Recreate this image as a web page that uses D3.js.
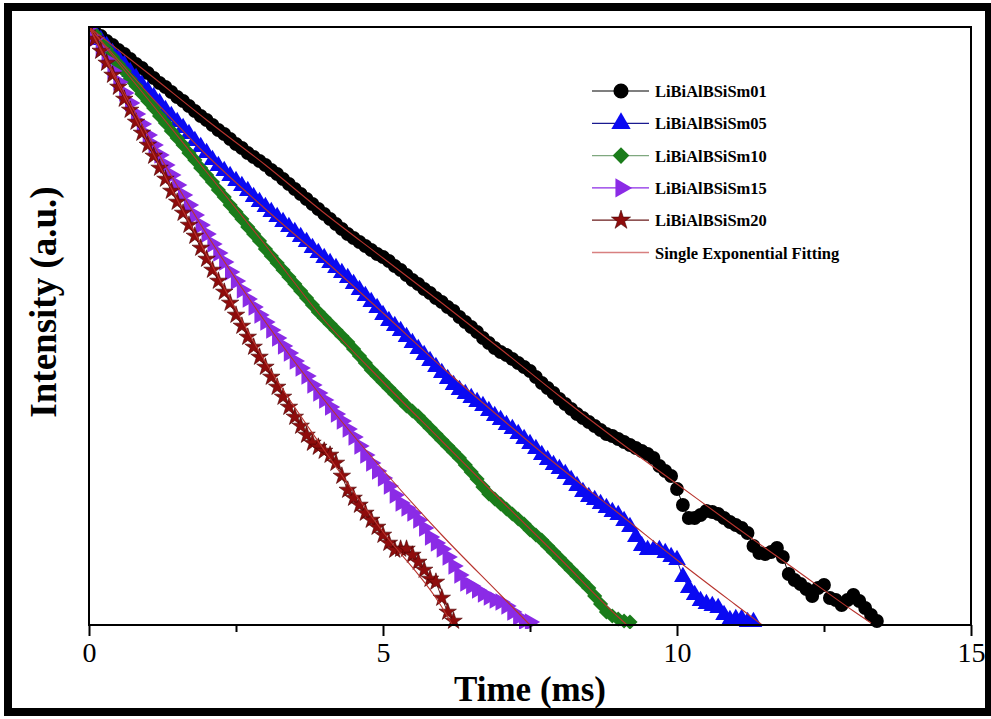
<!DOCTYPE html>
<html>
<head>
<meta charset="utf-8">
<script src="https://cdn.jsdelivr.net/npm/d3@7"></script>
<style>
  body { margin: 0; background: #fff; }
  svg { display: block; }
</style>
</head>
<body>
<script>
// time axis of the decay measurement (ms)
const time = [
  0,0.1,0.2,0.3,0.4,0.5,0.6,0.7,0.8,0.9,
  1,1.1,1.2,1.3,1.4,1.5,1.6,1.7,1.8,1.9,
  2,2.1,2.2,2.3,2.4,2.5,2.6,2.7,2.8,2.9,
  3,3.1,3.2,3.3,3.4,3.5,3.6,3.7,3.8,3.9,
  4,4.1,4.2,4.3,4.4,4.5,4.6,4.7,4.8,4.9,
  5,5.1,5.2,5.3,5.4,5.5,5.6,5.7,5.8,5.9,
  6,6.1,6.2,6.3,6.4,6.5,6.6,6.7,6.8,6.9,
  7,7.1,7.2,7.3,7.4,7.5,7.6,7.7,7.8,7.9,
  8,8.1,8.2,8.3,8.4,8.5,8.6,8.7,8.8,8.9,
  9,9.1,9.2,9.3,9.4,9.5,9.6,9.7,9.8,9.9,
  10,10.1,10.2,10.3,10.4,10.5,10.6,10.7,10.8,10.9,
  11,11.1,11.2,11.3,11.4,11.5,11.6,11.7,11.8,11.9,
  12,12.1,12.2,12.3,12.4,12.5,12.6,12.7,12.8,12.9,
  13,13.1,13.2,13.3,13.4
];

// ln(I/I0), one value per time step
const sm01 = [
  0,-0.05,-0.09,-0.14,-0.18,-0.23,-0.27,-0.32,-0.37,-0.41,
  -0.46,-0.51,-0.56,-0.60,-0.65,-0.70,-0.74,-0.79,-0.84,-0.89,
  -0.93,-0.98,-1.03,-1.07,-1.12,-1.17,-1.21,-1.26,-1.30,-1.34,
  -1.38,-1.43,-1.47,-1.52,-1.57,-1.62,-1.67,-1.72,-1.77,-1.82,
  -1.87,-1.92,-1.97,-2.02,-2.07,-2.11,-2.15,-2.19,-2.23,-2.27,
  -2.30,-2.34,-2.39,-2.43,-2.48,-2.53,-2.57,-2.62,-2.66,-2.71,
  -2.75,-2.80,-2.84,-2.90,-2.95,-3.00,-3.05,-3.11,-3.16,-3.21,
  -3.25,-3.28,-3.32,-3.36,-3.40,-3.44,-3.50,-3.56,-3.61,-3.66,
  -3.72,-3.77,-3.82,-3.87,-3.91,-3.95,-3.99,-4.03,-4.07,-4.09,
  -4.12,-4.15,-4.18,-4.21,-4.24,-4.27,-4.31,-4.39,-4.44,-4.49,
  -4.62,-4.78,-4.91,-4.91,-4.88,-4.84,-4.85,-4.87,-4.91,-4.95,
  -4.98,-5.01,-5.06,-5.19,-5.26,-5.27,-5.25,-5.21,-5.30,-5.47,
  -5.53,-5.57,-5.62,-5.69,-5.61,-5.58,-5.71,-5.73,-5.78,-5.73,
  -5.68,-5.74,-5.81,-5.88,-5.94
];
const sm05 = [
  0,-0.06,-0.13,-0.19,-0.26,-0.32,-0.38,-0.45,-0.51,-0.58,
  -0.64,-0.70,-0.76,-0.83,-0.89,-0.95,-1.01,-1.07,-1.14,-1.20,
  -1.26,-1.33,-1.39,-1.44,-1.49,-1.54,-1.59,-1.64,-1.70,-1.75,
  -1.80,-1.85,-1.90,-1.95,-2.00,-2.05,-2.10,-2.15,-2.21,-2.26,
  -2.31,-2.36,-2.41,-2.46,-2.51,-2.57,-2.63,-2.69,-2.75,-2.81,
  -2.88,-2.94,-2.99,-3.04,-3.10,-3.16,-3.22,-3.28,-3.34,-3.40,
  -3.46,-3.52,-3.58,-3.63,-3.67,-3.71,-3.75,-3.79,-3.84,-3.89,
  -3.93,-3.98,-4.02,-4.07,-4.12,-4.17,-4.22,-4.28,-4.33,-4.38,
  -4.42,-4.47,-4.53,-4.59,-4.65,-4.70,-4.73,-4.77,-4.81,-4.85,
  -4.88,-4.94,-5.00,-5.10,-5.19,-5.23,-5.23,-5.23,-5.26,-5.30,
  -5.33,-5.50,-5.61,-5.68,-5.74,-5.77,-5.79,-5.81,-5.88,-5.93,
  -5.92,-5.92,-5.95,-5.95
];
const sm10 = [
  0,-0.07,-0.15,-0.22,-0.30,-0.37,-0.44,-0.52,-0.59,-0.67,
  -0.74,-0.81,-0.89,-0.96,-1.04,-1.11,-1.18,-1.26,-1.33,-1.41,
  -1.48,-1.55,-1.63,-1.70,-1.78,-1.85,-1.92,-2.00,-2.07,-2.14,
  -2.22,-2.29,-2.36,-2.43,-2.50,-2.57,-2.64,-2.71,-2.78,-2.85,
  -2.91,-2.97,-3.03,-3.09,-3.15,-3.22,-3.29,-3.36,-3.43,-3.49,
  -3.55,-3.61,-3.67,-3.73,-3.79,-3.84,-3.89,-3.95,-4.01,-4.07,
  -4.13,-4.19,-4.25,-4.31,-4.38,-4.45,-4.52,-4.60,-4.67,-4.72,
  -4.77,-4.82,-4.87,-4.92,-4.97,-5.03,-5.08,-5.13,-5.19,-5.25,
  -5.31,-5.37,-5.43,-5.49,-5.55,-5.61,-5.69,-5.77,-5.85,-5.89,
  -5.92,-5.94,-5.95
];
const sm15 = [
  0,-0.11,-0.22,-0.33,-0.44,-0.55,-0.66,-0.76,-0.87,-0.97,
  -1.08,-1.18,-1.28,-1.38,-1.48,-1.58,-1.68,-1.78,-1.88,-1.98,
  -2.07,-2.17,-2.26,-2.35,-2.45,-2.54,-2.63,-2.72,-2.80,-2.88,
  -2.95,-3.03,-3.11,-3.19,-3.26,-3.34,-3.41,-3.49,-3.58,-3.66,
  -3.73,-3.80,-3.87,-3.94,-4.02,-4.10,-4.19,-4.28,-4.36,-4.44,
  -4.51,-4.59,-4.68,-4.76,-4.81,-4.86,-4.93,-5.01,-5.10,-5.16,
  -5.22,-5.30,-5.39,-5.48,-5.56,-5.59,-5.63,-5.67,-5.70,-5.73,
  -5.75,-5.79,-5.85,-5.90,-5.94,-5.95
];
const sm20 = [
  0,-0.12,-0.24,-0.36,-0.48,-0.60,-0.72,-0.83,-0.95,-1.06,
  -1.18,-1.29,-1.41,-1.52,-1.64,-1.75,-1.86,-1.98,-2.09,-2.21,
  -2.32,-2.43,-2.54,-2.65,-2.76,-2.88,-2.99,-3.10,-3.20,-3.30,
  -3.40,-3.50,-3.60,-3.70,-3.80,-3.90,-3.99,-4.08,-4.16,-4.20,
  -4.24,-4.28,-4.36,-4.49,-4.63,-4.71,-4.78,-4.86,-4.93,-5.00,
  -5.08,-5.16,-5.23,-5.22,-5.22,-5.28,-5.35,-5.43,-5.52,-5.55,
  -5.71,-5.85,-5.94
];

// single exponential fit curves (time, ln I)
const fitTime01 = [0,1,2,3,4,5,6,7,8,9,10,11,12,13,13.3];
const fitVal01  = [0,-0.46,-0.93,-1.38,-1.86,-2.31,-2.76,-3.22,-3.69,-4.14,-4.57,-5.00,-5.42,-5.84,-5.96];
const fitTime05 = [0,1,2,3,4,5,6,7,8,9,10,11,11.45];
const fitVal05  = [0,-0.66,-1.28,-1.82,-2.33,-2.86,-3.40,-3.91,-4.40,-4.86,-5.33,-5.78,-5.98];
const fitTime10 = [0,1,2,3,4,5,6,7,8,9,9.15];
const fitVal10  = [0,-0.72,-1.45,-2.18,-2.93,-3.55,-4.14,-4.73,-5.31,-5.90,-5.98];
const fitTime15 = [0,1,2,3,4,5,6,7,7.5];
const fitVal15  = [0,-1.08,-2.07,-2.95,-3.73,-4.43,-5.08,-5.68,-5.98];
const fitTime20 = [0,1,2,3,4,5,6,6.17];
const fitVal20  = [0,-1.16,-2.28,-3.35,-4.23,-5.05,-5.80,-5.97];

const seriesNames = ['LiBiAlBSiSm01','LiBiAlBSiSm05','LiBiAlBSiSm10','LiBiAlBSiSm15','LiBiAlBSiSm20'];
const fitName = 'Single Exponential Fitting';
const xMajorTicks = [0, 5, 10, 15];
const xMinorTicks = [2.5, 7.5, 12.5];

(function(){
	const WIDTH = 991, HEIGHT = 719;
	const PLOT = { left: 89, top: 27, right: 971, bottom: 625 };
	const SERIF = '"Liberation Serif","Times New Roman",serif';

	const svg = d3.select('body').append('svg')
		.attr('width', WIDTH)
		.attr('height', HEIGHT)
		.style('background', '#fff');

	const x = d3.scaleLinear().domain([0, 15]).range([PLOT.left, PLOT.right]);
	const y = d3.scaleLinear().domain([-5.98, 0]).range([PLOT.bottom, PLOT.top]);

	// outer black frame
	svg.append('rect')
		.attr('x', 8).attr('y', 7)
		.attr('width', 981).attr('height', 705)
		.attr('fill', 'none').attr('stroke', '#000').attr('stroke-width', 8);

	svg.append('clipPath').attr('id', 'plotClip')
		.append('rect')
		.attr('x', PLOT.left).attr('y', PLOT.top)
		.attr('width', PLOT.right - PLOT.left).attr('height', PLOT.bottom - PLOT.top + 4);

	const styles = [
		{ color: '#000000', line: '#000000', symbol: d3.symbolCircle, size: 150, rotate: 0, stroke: 'none' },
		{ color: '#0a0af2', line: '#1a1a90', symbol: d3.symbolTriangle, size: 135, rotate: 0, stroke: 'none' },
		{ color: '#1a7c1a', line: '#7fa87f', symbol: d3.symbolSquare, size: 115, rotate: 45, stroke: 'none' },
		{ color: '#8b2be6', line: '#8b2be6', symbol: d3.symbolTriangle, size: 135, rotate: 90, stroke: 'none' },
		{ color: '#8e0c0c', line: '#6a1a1a', symbol: d3.symbolStar, size: 95, rotate: 0, stroke: '#4a0000' }
	];
	const values = [sm01, sm05, sm10, sm15, sm20];
	const fits = [
		[fitTime01, fitVal01], [fitTime05, fitVal05], [fitTime10, fitVal10],
		[fitTime15, fitVal15], [fitTime20, fitVal20]
	];
	const fitColor = '#b8342e';

	const plot = svg.append('g').attr('clip-path', 'url(#plotClip)');
	const line = d3.line().x(function(d){ return x(d[0]); }).y(function(d){ return y(d[1]); });

	values.forEach(function(vals, i){
		const st = styles[i];
		const pts = vals.map(function(v, k){ return [time[k], v]; });
		plot.append('path')
			.datum(pts)
			.attr('fill', 'none')
			.attr('stroke', st.line)
			.attr('stroke-width', 1)
			.attr('d', line);
		plot.append('g').selectAll('path')
			.data(pts)
			.enter().append('path')
			.attr('transform', function(d){ return 'translate(' + x(d[0]) + ',' + y(d[1]) + ') rotate(' + st.rotate + ')'; })
			.attr('d', d3.symbol().type(st.symbol).size(st.size))
			.attr('fill', st.color)
			.attr('stroke', st.stroke)
			.attr('stroke-width', 0.6);
	});

	// fit curves on top
	const fitLine = d3.line().curve(d3.curveMonotoneX)
		.x(function(d){ return x(d[0]); }).y(function(d){ return y(d[1]); });
	fits.forEach(function(f){
		const pts = f[0].map(function(t, k){ return [t, f[1][k]]; });
		plot.append('path')
			.datum(pts)
			.attr('fill', 'none')
			.attr('stroke', fitColor)
			.attr('stroke-width', 1.1)
			.attr('d', fitLine);
	});

	// plot frame
	svg.append('rect')
		.attr('x', PLOT.left).attr('y', PLOT.top)
		.attr('width', PLOT.right - PLOT.left).attr('height', PLOT.bottom - PLOT.top)
		.attr('fill', 'none').attr('stroke', '#000').attr('stroke-width', 2);

	// x axis: major and minor ticks
	const axisMajor = svg.append('g')
		.attr('transform', 'translate(0,' + PLOT.bottom + ')')
		.call(d3.axisBottom(x).tickValues(xMajorTicks).tickSize(11).tickPadding(6).tickFormat(d3.format('d')));
	axisMajor.select('.domain').remove();
	axisMajor.selectAll('line').attr('stroke-width', 2);
	axisMajor.selectAll('text')
		.attr('font-family', SERIF).attr('font-size', 28).attr('fill', '#000');

	const axisMinor = svg.append('g')
		.attr('transform', 'translate(0,' + PLOT.bottom + ')')
		.call(d3.axisBottom(x).tickValues(xMinorTicks).tickSize(7).tickFormat(''));
	axisMinor.select('.domain').remove();
	axisMinor.selectAll('line').attr('stroke-width', 2);

	// axis titles
	svg.append('text')
		.attr('x', 530).attr('y', 701)
		.attr('text-anchor', 'middle')
		.attr('font-family', SERIF).attr('font-weight', 'bold').attr('font-size', 35)
		.text('Time (ms)');
	svg.append('text')
		.attr('transform', 'translate(56,302) rotate(-90)')
		.attr('text-anchor', 'middle')
		.attr('font-family', SERIF).attr('font-weight', 'bold').attr('font-size', 37)
		.text('Intensity (a.u.)');

	// legend
	const legend = svg.append('g').attr('transform', 'translate(592,91)');
	const rowH = 32.3;
	styles.forEach(function(st, i){
		const row = legend.append('g').attr('transform', 'translate(0,' + (i * rowH) + ')');
		row.append('line')
			.attr('x1', 0).attr('x2', 57).attr('y1', 0).attr('y2', 0)
			.attr('stroke', st.line).attr('stroke-width', 1.2);
		row.append('path')
			.attr('transform', 'translate(29,0) rotate(' + st.rotate + ')')
			.attr('d', d3.symbol().type(st.symbol).size(st.size * 1.2))
			.attr('fill', st.color).attr('stroke', st.stroke).attr('stroke-width', 0.6);
		row.append('text')
			.attr('x', 63).attr('y', 6)
			.attr('font-family', SERIF).attr('font-weight', 'bold').attr('font-size', 16.5)
			.text(seriesNames[i]);
	});
	const fitRow = legend.append('g').attr('transform', 'translate(0,' + (5 * rowH) + ')');
	fitRow.append('line')
		.attr('x1', 0).attr('x2', 57).attr('y1', 0).attr('y2', 0)
		.attr('stroke', '#d88080').attr('stroke-width', 1.4);
	fitRow.append('text')
		.attr('x', 63).attr('y', 6)
		.attr('font-family', SERIF).attr('font-weight', 'bold').attr('font-size', 16.5)
		.text(fitName);
})();
</script>
</body>
</html>
